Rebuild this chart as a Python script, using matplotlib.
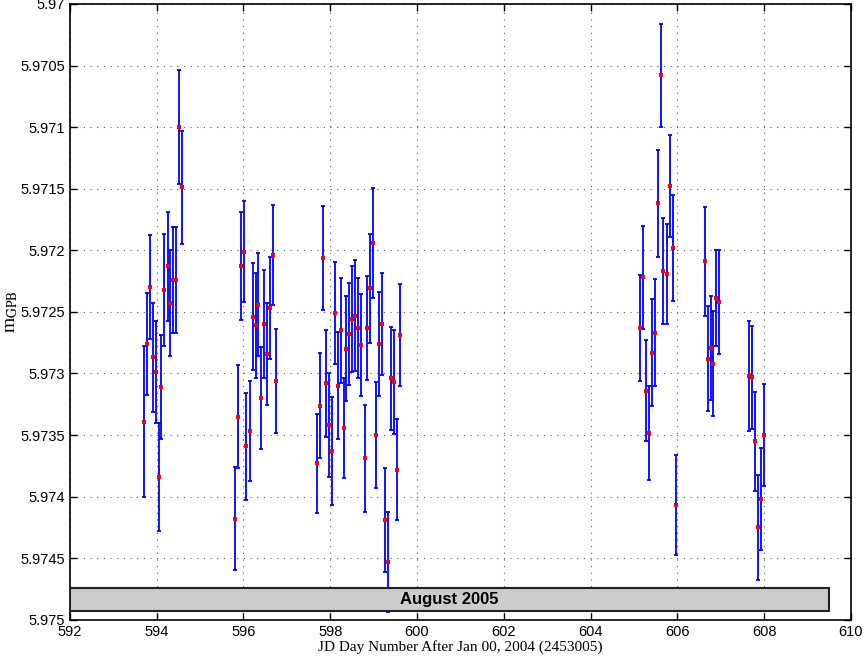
import numpy as np
import matplotlib
matplotlib.use('Agg')
from matplotlib import pyplot as plt
from matplotlib.patches import Rectangle
from matplotlib.ticker import FuncFormatter, MultipleLocator

plt.rcParams['font.family'] = ['Liberation Sans', 'DejaVu Sans']
plt.rcParams['mathtext.fontset'] = 'stix'

# JD day number, magnitude, 1-sigma error
jd = [593.71, 593.77, 593.84, 593.91, 593.98, 594.05, 594.11, 594.18, 594.25,
      594.31, 594.38, 594.45, 594.52, 594.59,
      595.81, 595.87, 595.94, 596.01, 596.07, 596.14, 596.21, 596.28, 596.34,
      596.41, 596.48, 596.54, 596.61, 596.68, 596.75,
      597.69, 597.76, 597.83, 597.90, 597.97, 598.04, 598.11, 598.17, 598.24,
      598.31, 598.37, 598.44, 598.51, 598.58, 598.65, 598.72, 598.79, 598.85,
      598.92, 598.99, 599.06, 599.13, 599.20, 599.26, 599.33, 599.39, 599.46,
      599.53, 599.60,
      605.15, 605.21, 605.28, 605.35, 605.42, 605.48, 605.55, 605.62, 605.68,
      605.75, 605.82, 605.89, 605.96,
      606.63, 606.70, 606.77, 606.83, 606.90, 606.97,
      607.65, 607.71, 607.78, 607.85, 607.92, 607.99]

mag = [5.97339, 5.97276, 5.97230, 5.97287, 5.97299, 5.97384, 5.97311, 5.97232,
       5.97213, 5.97243, 5.97224, 5.97224, 5.97100, 5.97149,
       5.97418, 5.97335, 5.97213, 5.97201, 5.97359, 5.97347, 5.97254, 5.97261,
       5.97244, 5.97320, 5.97260, 5.97284, 5.97247, 5.97204, 5.97306,
       5.97373, 5.97326, 5.97206, 5.97308, 5.97342, 5.97363, 5.97251, 5.97310,
       5.97265, 5.97344, 5.97280, 5.97268, 5.97256, 5.97253, 5.97263, 5.97277,
       5.97369, 5.97263, 5.97231, 5.97194, 5.97350, 5.97276, 5.97260, 5.97419,
       5.97453, 5.97304, 5.97307, 5.97378, 5.97269,
       5.97263, 5.97222, 5.97314, 5.97348, 5.97283, 5.97267, 5.97162, 5.97058,
       5.97217, 5.97219, 5.97148, 5.97198, 5.97407,
       5.97209, 5.97288, 5.97279, 5.97292, 5.97239, 5.97242,
       5.97302, 5.97303, 5.97355, 5.97425, 5.97402, 5.97350]

err = [0.000615, 0.000413, 0.000421, 0.000445, 0.000413, 0.000437, 0.000421,
       0.000453, 0.000445, 0.000429, 0.000429, 0.000429, 0.000462, 0.000462,
       0.000417, 0.000421, 0.000437, 0.000413, 0.000435, 0.000405, 0.000433,
       0.000429, 0.000421, 0.000417, 0.000437, 0.000413, 0.000413, 0.000405,
       0.000421,
       0.000405, 0.000429, 0.000421, 0.000437, 0.000421, 0.000437, 0.000417,
       0.000435, 0.000427, 0.000405, 0.000427, 0.000411, 0.000429, 0.000453,
       0.000405, 0.000413, 0.000433, 0.000421, 0.000443, 0.000445, 0.000429,
       0.000419, 0.000415, 0.000419, 0.000405, 0.000419, 0.000421, 0.000413,
       0.000413,
       0.000427, 0.000419, 0.000409, 0.000381, 0.000437, 0.000435, 0.000433,
       0.000419, 0.000432, 0.000405, 0.000413, 0.000428, 0.000407,
       0.000441, 0.000425, 0.000423, 0.000425, 0.000390, 0.000423,
       0.000448, 0.000419, 0.000402, 0.000425, 0.000411, 0.000415]

month_label = 'August 2005'
box_x = (592, 609.5)
box_y = (5.97474, 5.97493)

fig = plt.figure(figsize=(8.63, 6.58), dpi=100)
ax = fig.add_axes([0.081, 0.058, 0.905, 0.936])

ax.errorbar(jd, mag, yerr=err, fmt='none', ecolor='#0000ff', elinewidth=1.3,
            capsize=1.6, capthick=1.3, zorder=3)
ax.plot(jd, mag, 's', color='red', markersize=2.2, markeredgewidth=0, zorder=4)

# month band at the bottom
ax.add_patch(Rectangle((box_x[0], box_y[0]), box_x[1] - box_x[0], box_y[1] - box_y[0],
                       facecolor='#cccccc', edgecolor='#222222', linewidth=1.5, zorder=5))
ax.text((box_x[0] + box_x[1]) / 2, (box_y[0] + box_y[1]) / 2, month_label,
        ha='center', va='center', fontsize=12, fontweight='bold', zorder=6)

ax.set_xlim(592, 610)
ax.set_ylim(5.975, 5.97)
ax.xaxis.set_major_locator(MultipleLocator(2))
ax.yaxis.set_major_locator(MultipleLocator(0.0005))
ax.yaxis.set_major_formatter(FuncFormatter(lambda v, p: '%g' % round(v, 5)))

ax.grid(True, color='0.35', linestyle=(0, (1, 5)), linewidth=0.8)
ax.tick_params(direction='in', top=True, right=True, length=5, width=1, labelsize=10.5)
for s in ax.spines.values():
    s.set_linewidth(1.2)

ax.set_xlabel('JD Day Number After Jan 00, 2004 (2453005)', fontsize=11,
              family=['Liberation Serif', 'DejaVu Serif'], labelpad=1)
ax.set_ylabel(r'm$_{\mathrm{GPB}}$', fontsize=14,
              family=['Liberation Serif', 'DejaVu Serif'], labelpad=0)

fig.savefig('out.png', dpi=100)
